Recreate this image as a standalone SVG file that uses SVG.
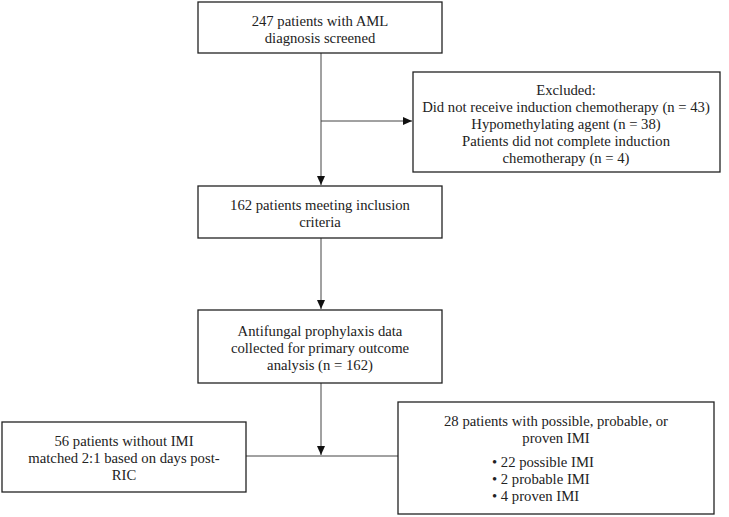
<svg xmlns="http://www.w3.org/2000/svg" width="729" height="517" viewBox="0 0 729 517">
<style>
.box{fill:#fff;stroke:#222;stroke-width:1.3}
.t{font-family:"Liberation Serif",serif;font-size:14.7px;fill:#222;text-anchor:middle}
.tl{font-family:"Liberation Serif",serif;font-size:14.7px;fill:#222}
.c{stroke:#444;stroke-width:1;fill:none}
</style>
<defs>
<marker id="ah" markerWidth="10" markerHeight="10" refX="9" refY="5" orient="auto" markerUnits="userSpaceOnUse">
<path d="M0,1 L9,5 L0,9 z" fill="#111"/>
</marker>
</defs>
<g id="connectors">
<line class="c" x1="321" y1="53" x2="321" y2="185" marker-end="url(#ah)"/>
<line class="c" x1="321" y1="121" x2="412" y2="121" marker-end="url(#ah)"/>
<line class="c" x1="321" y1="238" x2="321" y2="309" marker-end="url(#ah)"/>
<line class="c" x1="321" y1="383" x2="321" y2="455" marker-end="url(#ah)"/>
<line class="c" x1="246" y1="456" x2="398" y2="456"/>
</g>
<g id="n1">
<rect class="box" x="198" y="2" width="244" height="51"/>
<text class="t" x="320" y="25.5">247 patients with AML</text>
<text class="t" x="320" y="42.5">diagnosis screened</text>
</g>
<g id="excluded">
<rect class="box" x="413" y="72" width="307" height="100"/>
<text class="t" x="566" y="94.5">Excluded:</text>
<text class="t" x="566" y="111.5">Did not receive induction chemotherapy (n = 43)</text>
<text class="t" x="566" y="128.5">Hypomethylating agent (n = 38)</text>
<text class="t" x="566" y="145.5">Patients did not complete induction</text>
<text class="t" x="566" y="162.5">chemotherapy (n = 4)</text>
</g>
<g id="n2">
<rect class="box" x="198" y="186" width="244" height="52"/>
<text class="t" x="320" y="209.5">162 patients meeting inclusion</text>
<text class="t" x="320" y="226.5">criteria</text>
</g>
<g id="n3">
<rect class="box" x="198" y="310" width="244" height="73"/>
<text class="t" x="320" y="336">Antifungal prophylaxis data</text>
<text class="t" x="320" y="353">collected for primary outcome</text>
<text class="t" x="320" y="370">analysis (n = 162)</text>
</g>
<g id="nleft">
<rect class="box" x="2" y="422" width="244" height="70"/>
<text class="t" x="124" y="446">56 patients without IMI</text>
<text class="t" x="124" y="463">matched 2:1 based on days post-</text>
<text class="t" x="124" y="480">RIC</text>
</g>
<g id="nright">
<rect class="box" x="398" y="402" width="316" height="112"/>
<text class="t" x="556" y="426">28 patients with possible, probable, or</text>
<text class="t" x="556" y="443">proven IMI</text>
<text class="tl" x="492" y="467">• 22 possible IMI</text>
<text class="tl" x="492" y="484">• 2 probable IMI</text>
<text class="tl" x="492" y="501">• 4 proven IMI</text>
</g>
</svg>
